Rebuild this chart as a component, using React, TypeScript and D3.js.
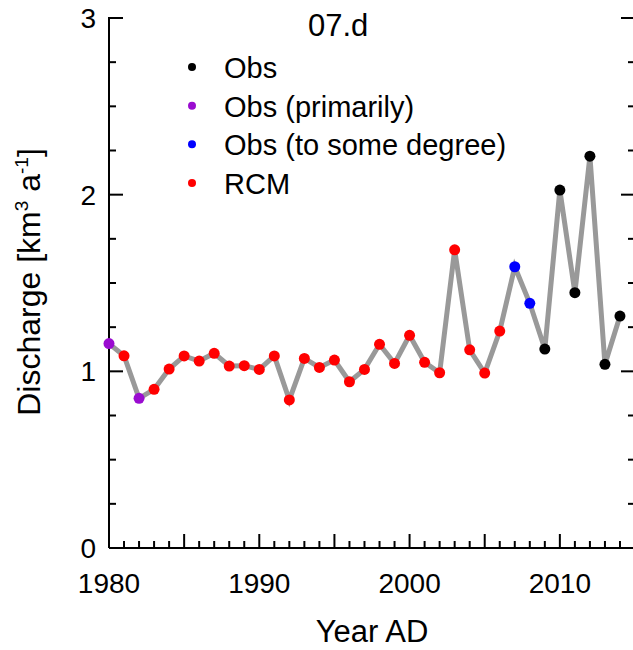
import { useEffect, useRef } from 'react'
import * as d3 from 'd3'

// ── data ──────────────────────────────────────────────────────────────────
const years = [
  1980, 1981, 1982, 1983, 1984, 1985, 1986, 1987, 1988, 1989,
  1990, 1991, 1992, 1993, 1994, 1995, 1996, 1997, 1998, 1999,
  2000, 2001, 2002, 2003, 2004, 2005, 2006, 2007, 2008, 2009,
  2010, 2011, 2012, 2013, 2014,
]
const discharge = [
  1.157, 1.088, 0.847, 0.898, 1.013, 1.087, 1.058, 1.102, 1.03, 1.032,
  1.011, 1.087, 0.838, 1.073, 1.022, 1.064, 0.941, 1.011, 1.153, 1.045,
  1.204, 1.051, 0.992, 1.688, 1.122, 0.99, 1.228, 1.592, 1.385, 1.126,
  2.026, 1.445, 2.218, 1.04, 1.313,
]
// source of each value
const source = [
  'prim', 'rcm', 'prim', 'rcm', 'rcm', 'rcm', 'rcm', 'rcm', 'rcm', 'rcm',
  'rcm', 'rcm', 'rcm', 'rcm', 'rcm', 'rcm', 'rcm', 'rcm', 'rcm', 'rcm',
  'rcm', 'rcm', 'rcm', 'rcm', 'rcm', 'rcm', 'rcm', 'some', 'some', 'obs',
  'obs', 'obs', 'obs', 'obs', 'obs',
]
const legendKeys = ['obs', 'prim', 'some', 'rcm']
const legendLabels = ['Obs', 'Obs (primarily)', 'Obs (to some degree)', 'RCM']
const legendColors = ['#000000', '#9a0cd0', '#0000ff', '#ff0000']
const yTicks = [0, 1, 2, 3]
const xTicks = [1980, 1990, 2000, 2010]

const FONT = 'Liberation Sans, Arial, sans-serif'

export default function App() {
  const svgRef = useRef(null)

  useEffect(() => {
    const W = 633, H = 650
    const svg = d3.select(svgRef.current)
    svg.selectAll('*').remove()
    svg.attr('width', W).attr('height', H)

    const x = d3.scaleLinear().domain([1980, 2015]).range([109, 635])
    const y = d3.scaleLinear().domain([0, 3]).range([548, 18])
    const color = d3.scaleOrdinal().domain(legendKeys).range(legendColors)

    const axis = svg.append('g').attr('stroke', '#000').attr('stroke-width', 2)

    // frame lines (left, bottom, right)
    axis.append('line').attr('x1', x(1980)).attr('x2', x(1980)).attr('y1', y(3) - 1).attr('y2', y(0))
    axis.append('line').attr('x1', x(1980)).attr('x2', x(2015)).attr('y1', y(0)).attr('y2', y(0))
    axis.append('line').attr('x1', x(2015)).attr('x2', x(2015)).attr('y1', y(3)).attr('y2', y(0))

    // y ticks, inward on both sides
    d3.range(0, 3.001, 0.25).forEach(v => {
      const len = Math.abs(v - Math.round(v)) < 1e-6 ? 14 : 7
      axis.append('line').attr('x1', x(1980)).attr('x2', x(1980) + len).attr('y1', y(v)).attr('y2', y(v))
      axis.append('line').attr('x1', x(2015)).attr('x2', x(2015) - len).attr('y1', y(v)).attr('y2', y(v))
    })
    // x ticks, inward
    d3.range(1980, 2016).forEach(yr => {
      const len = yr % 5 === 0 ? 14 : 7
      axis.append('line').attr('x1', x(yr)).attr('x2', x(yr)).attr('y1', y(0)).attr('y2', y(0) - len)
    })

    // tick labels
    yTicks.forEach(v => {
      svg.append('text')
        .attr('x', x(1980) - 13).attr('y', y(v) + 10)
        .attr('text-anchor', 'end').attr('font-family', FONT).attr('font-size', 28)
        .text(v)
    })
    xTicks.forEach(v => {
      svg.append('text')
        .attr('x', x(v)).attr('y', 593)
        .attr('text-anchor', 'middle').attr('font-family', FONT).attr('font-size', 28)
        .text(v)
    })

    // axis titles
    svg.append('text')
      .attr('x', 372).attr('y', 642)
      .attr('text-anchor', 'middle').attr('font-family', FONT).attr('font-size', 31)
      .text('Year AD')

    const yl = svg.append('text')
      .attr('transform', `translate(40,282) rotate(-90)`)
      .attr('text-anchor', 'middle').attr('font-family', FONT).attr('font-size', 32)
    yl.append('tspan').text('Discharge [km')
    yl.append('tspan').attr('font-size', 19).attr('dy', -12).text('3')
    yl.append('tspan').attr('dy', 12).text(' a')
    yl.append('tspan').attr('font-size', 19).attr('dy', -12).text('-1')
    yl.append('tspan').attr('dy', 12).text(']')

    // title
    svg.append('text')
      .attr('x', 308).attr('y', 36)
      .attr('font-family', FONT).attr('font-size', 31)
      .text('07.d')

    // legend
    const legY = d3.scalePoint().domain(legendKeys).range([67, 183])
    legendKeys.forEach((k, i) => {
      svg.append('circle')
        .attr('cx', 192).attr('cy', legY(k)).attr('r', 4)
        .attr('fill', color(k))
      svg.append('text')
        .attr('x', 224).attr('y', legY(k) + 11)
        .attr('font-family', FONT).attr('font-size', 29)
        .text(legendLabels[i])
    })

    // series line
    const pts = years.map((yr, i) => ({ yr, v: discharge[i], s: source[i] }))
    const line = d3.line().x(d => x(d.yr)).y(d => y(d.v))
    svg.append('path')
      .datum(pts)
      .attr('d', line)
      .attr('fill', 'none').attr('stroke', '#999999').attr('stroke-width', 5)
      .attr('stroke-linejoin', 'miter')

    svg.append('g').selectAll('circle')
      .data(pts).enter().append('circle')
      .attr('cx', d => x(d.yr)).attr('cy', d => y(d.v)).attr('r', 5.5)
      .attr('fill', d => color(d.s))
  }, [])

  return (
    <div style={{ position: 'absolute', left: 0, top: 0 }}>
      <svg ref={svgRef} style={{ display: 'block' }} />
    </div>
  )
}
